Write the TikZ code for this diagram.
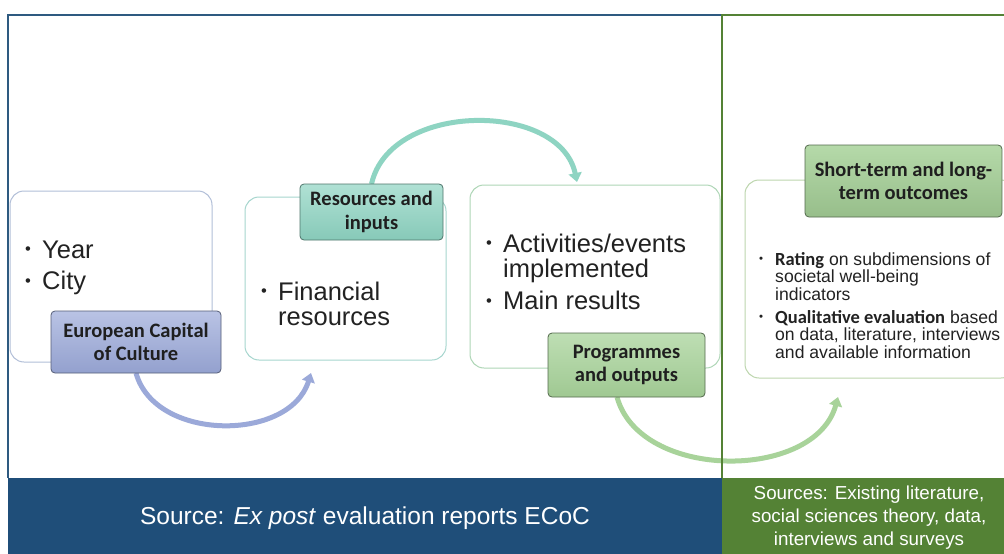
\documentclass[tikz,border=0pt]{standalone}
\usepackage{fontspec}
\usepackage{graphicx}
\setmainfont{Liberation Sans}
\newfontfamily\lblfont{Carlito}
\usetikzlibrary{arrows.meta}
\definecolor{frameblue}{HTML}{2E5A80}
\definecolor{barblue}{HTML}{1F4E79}
\definecolor{framegreen}{HTML}{548235}
\definecolor{bargreen}{HTML}{548235}
\definecolor{bxone}{HTML}{B2BFD8}
\definecolor{bxtwo}{HTML}{A6D6CE}
\definecolor{bxthree}{HTML}{AED6B6}
\definecolor{bxfour}{HTML}{BDD6AE}
\definecolor{arcone}{HTML}{9BA9D9}
\definecolor{arctwo}{HTML}{8ED4C2}
\definecolor{arcthree}{HTML}{A8D39A}
\definecolor{txt}{HTML}{222222}
\newcommand{\bul}{\raisebox{0.12em}{\scalebox{0.65}{\textbullet}}}
\begin{document}
\begin{tikzpicture}[x=1pt,y=-1pt,
  box/.style={draw, rounded corners=14pt, fill=white, line width=1pt, inner sep=0pt},
  lbl/.style={rounded corners=4pt, line width=0.8pt, inner sep=0pt, align=center,
    font=\lblfont\bfseries\fontsize{20.5}{23.5}\selectfont, text=black!88},
  bigtxt/.style={anchor=base west, inner sep=0pt, text=txt, font=\fontsize{25.5}{25}\selectfont},
  smalltxt/.style={anchor=base west, inner sep=0pt, text=txt, font=\fontsize{17.6}{16.7}\selectfont},
  arc/.style={line width=5pt, -{Triangle[width=13pt,length=9pt]}},
  bartxt/.style={text=white, inner sep=0pt, align=center}]
\useasboundingbox (0,0) rectangle (1004,554);
\clip (0,0) rectangle (1004,554);
\fill[white] (0,0) rectangle (1004,554);
% content boxes
\node[box, draw=bxone, minimum width=202pt, minimum height=171pt] (b1) at (111,276.5) {};
\node[box, draw=bxtwo, minimum width=201pt, minimum height=163pt] (b2) at (345.5,278.5) {};
\node[box, draw=bxthree, minimum width=250pt, minimum height=183pt] (b3) at (595,276.5) {};
\node[box, draw=bxfour, minimum width=270pt, minimum height=198pt] (b4) at (880,279) {};
% arc end points
\coordinate (e1) at (311,373);
\coordinate (e2) at (577,182);
\coordinate (e3) at (838,397);
\coordinate (s1) at (136,373);
\coordinate (s2) at (371.5,184);
\coordinate (s3) at (617,397);
% arcs (drawn first, labels go on top)
\draw[arc, arcone] (s1) .. controls (155,442) and (290,442) .. (e1);
\draw[arc, arctwo] (s2) .. controls (390,101) and (560,101) .. (e2);
\draw[arc, arcthree] (s3) .. controls (640,481) and (815,481) .. (e3);
% label boxes
\node[lbl, draw=arcone!55!black, top color=arcone!70!white, bottom color=arcone!95!black,
  minimum width=170pt, minimum height=62pt] (l1) at (136,342) {European Capital\\of Culture};
\node[lbl, draw=arctwo!55!black, top color=arctwo!70!white, bottom color=arctwo!95!black,
  minimum width=143pt, minimum height=56pt] (l2) at (371.5,212) {Resources and\\inputs};
\node[lbl, draw=arcthree!50!black, top color=arcthree!75!white, bottom color=arcthree!95!black,
  minimum width=157pt, minimum height=64pt] (l3) at (626.5,365) {Programmes\\and outputs};
\node[lbl, draw=arcthree!50!black, top color=arcthree!85!white, bottom color=arcthree!90!black,
  minimum width=197pt, minimum height=72pt] (l4) at (903.5,181) {Short-term and long-\\term outcomes};
% bottom bars
\fill[barblue] (8,478) rectangle (722,554);
\fill[bargreen] (722,478) rectangle (1004,554);
% frame lines
\coordinate (fa) at (8,478);
\coordinate (fb) at (8,15);
\coordinate (fc) at (722,15);
\coordinate (fd) at (722,478);
\coordinate (fe) at (1004,15);
\draw[frameblue, line width=2pt] (fa) -- (fb) -- (fc);
\draw[framegreen, line width=2.2pt] (fd) -- (fc) -- (fe);
% texts in boxes
\node[bigtxt] (t1) at (25,258) {\begin{tabular}[t]{@{}p{17pt}@{}l@{}}
\bul & Year\\[6pt]
\bul & City
\end{tabular}};
\node[bigtxt] (t2) at (261,300) {\begin{tabular}[t]{@{}p{17pt}@{}l@{}}
\bul & Financial\\
 & resources
\end{tabular}};
\node[bigtxt] (t3) at (486,252) {\begin{tabular}[t]{@{}p{17pt}@{}l@{}}
\bul & Activities/events\\
 & implemented\\[6pt]
\bul & Main results
\end{tabular}};
\node[smalltxt] (t4) at (759,265) {\begin{tabular}[t]{@{}p{16pt}@{}l@{}}
\bul & {\lblfont\bfseries\fontsize{18.5}{16.7}\selectfont Rating} on subdimensions of\\
 & societal well-being\\
 & indicators\\[4.5pt]
\bul & {\lblfont\bfseries\fontsize{18.5}{16.7}\selectfont Qualitative evaluation} based\\
 & on data, literature, interviews\\
 & and available information
\end{tabular}};
% bar texts
\node[bartxt, font=\fontsize{24.5}{26}\selectfont] (src1) at (365,518) {Source: \textit{Ex post} evaluation reports ECoC};
\node[bartxt, font=\fontsize{18.8}{23}\selectfont] (src2) at (869,518) {Sources: Existing literature,\\social sciences theory, data,\\interviews and surveys};
\end{tikzpicture}
\end{document}
